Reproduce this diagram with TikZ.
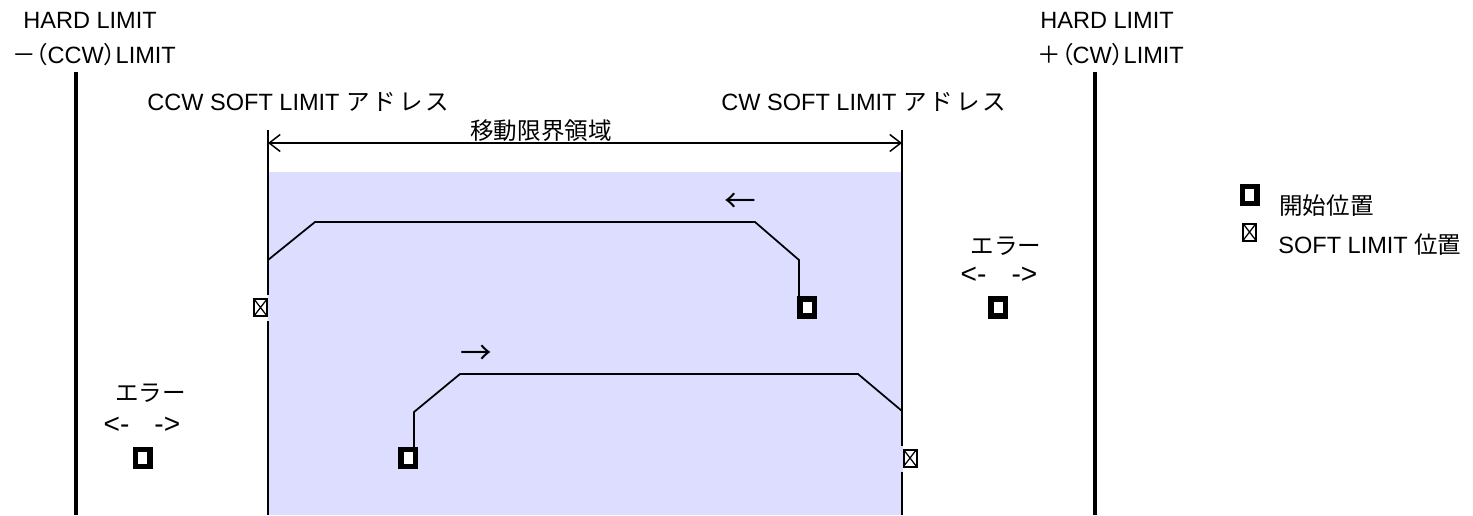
\documentclass[tikz,border=0pt]{standalone}
\usepackage{fontspec}
\setmainfont{Liberation Sans}
\newfontfamily\jp{Noto Sans CJK JP}
\newfontfamily\jpp{Noto Sans CJK JP}[RawFeature=+palt]
\usetikzlibrary{arrows.meta}
\definecolor{area}{RGB}{221,221,255}
\tikzset{>={Straight Barb[length=2.2mm,width=3.4mm]}}
\tikzset{startbox/.style={draw,line width=1.1mm,fill=white,inner sep=0pt,minimum width=2.9mm,minimum height=3.4mm}}
\tikzset{softbox/.style={draw,line width=0.4mm,fill=white,inner sep=0pt,minimum width=2.6mm,minimum height=3.4mm,
    path picture={\draw[line width=0.25mm] (path picture bounding box.south west) -- (path picture bounding box.north east)
      (path picture bounding box.north west) -- (path picture bounding box.south east);}}}
\tikzset{lbl/.style={inner sep=0pt}}
\tikzset{dirlbl/.style={inner sep=0pt,font=\fontsize{16}{18}\selectfont}}
\tikzset{hardline/.style={line width=0.75mm}}
\tikzset{softline/.style={line width=0.5mm}}
\tikzset{route/.style={line width=0.35mm}}
\tikzset{dim/.style={line width=0.3mm}}

\begin{document}
\begin{tikzpicture}[x=0.02cm,y=-0.02cm,font=\fontsize{13.4}{16}\selectfont]
                    \useasboundingbox (0,0) rectangle (1473,515);
                    \fill[area] (268,172) rectangle (903,515);

                    % hard limits
                    \node[lbl,anchor=base west] (hardL) at (23,28) {HARD LIMIT};
                    \node[lbl,anchor=base west] (ccwL) at (12,63) {{\jpp －（}CCW{\jpp ）}LIMIT};
                    \node[lbl,anchor=base west] (hardR) at (1040,28) {HARD LIMIT};
                    \node[lbl,anchor=base west] (cwL) at (1037,63) {{\jpp ＋（}CW{\jpp ）}LIMIT};
                    \coordinate (hlTop) at (76,72);
                    \coordinate (hlBot) at (76,515);
                    \coordinate (hrTop) at (1095,72);
                    \coordinate (hrBot) at (1095,515);
                    \draw[hardline] (hlTop) -- (hlBot);
                    \draw[hardline] (hrTop) -- (hrBot);

                    % soft limits
                    \node[lbl,anchor=base west] (ccwSoft) at (147,110)
                        {CCW SOFT LIMIT {\jp ア\kern0.6mm ド\kern0.6mm レ\kern0.6mm ス}};
                    \node[lbl,anchor=base west] (cwSoft) at (721,110)
                        {CW SOFT LIMIT {\jp ア\kern0.6mm ド\kern0.6mm レ\kern0.6mm ス}};
                    \coordinate (slTop) at (268,130);
                    \coordinate (slBot) at (268,515);
                    \coordinate (srTop) at (902,130);
                    \coordinate (srBot) at (902,515);
                    \node[softbox] (ccwX) at (260.5,307.5) {};
                    \node[softbox] (cwX) at (910,458) {};
                    \draw[softline,shorten >=0.6mm] (slTop) -- (slTop |- ccwX.north);
                    \draw[softline,shorten <=0.8mm] (slTop |- ccwX.south) -- (slBot);
                    \draw[softline,shorten >=0.6mm] (srTop) -- (srTop |- cwX.north);
                    \draw[softline,shorten <=0.8mm] (srTop |- cwX.south) -- (srBot);

                    \coordinate (dimL) at (268,143);
                    \coordinate (dimR) at (902,143);
                    \draw[dim,<->] (dimL) -- (dimR);
                    \node[lbl,anchor=base] (range) at (541,139) {\jp 移動限界領域};

                    % ccw move
                    \node[startbox] (startA) at (807,307.5) {};
                    \coordinate (a1) at (268,260);
                    \coordinate (a2) at (315,222);
                    \coordinate (a3) at (755,222);
                    \coordinate (a4) at (799,260);
                    \draw[route] (a1) -- (a2) -- (a3) -- (a4) -- (a4 |- startA.north);
                    \node[dirlbl,font=\jp\fontsize{18}{20}\selectfont] (dirA) at (740,203) {←};

                    % cw move
                    \node[startbox] (startB) at (408,458) {};
                    \coordinate (b1) at (414,412);
                    \coordinate (b2) at (460,374);
                    \coordinate (b3) at (858,374);
                    \coordinate (b4) at (902,411);
                    \draw[route] (b1 |- startB.north) -- (b1) -- (b2) -- (b3) -- (b4);
                    \node[dirlbl,font=\jp\fontsize{18}{20}\selectfont] (dirB) at (476,355) {→};

                    % errors
                    \node[lbl] (errR) at (1006,246.5) {\jp エラー};
                    \node[dirlbl] (errRdir) at (999,275) {<-\hspace{0.5cm}->};
                    \node[startbox] (startR) at (998,307.5) {};
                    \node[lbl] (errL) at (150.5,393.5) {\jp エラー};
                    \node[dirlbl] (errLdir) at (142,425) {<-\hspace{0.5cm}->};
                    \node[startbox] (startL) at (142.5,458) {};

                    % legend
                    \node[startbox] (keyStart) at (1249.5,195) {};
                    \node[lbl,anchor=base west] (keyStartTxt) at (1279,214) {\jp 開始位置};
                    \node[softbox] (keySoft) at (1249.5,232) {};
                    \node[lbl,anchor=base west] (keySoftTxt) at (1278,253) {SOFT LIMIT {\jp 位置}};

                \end{tikzpicture}
\end{document}
